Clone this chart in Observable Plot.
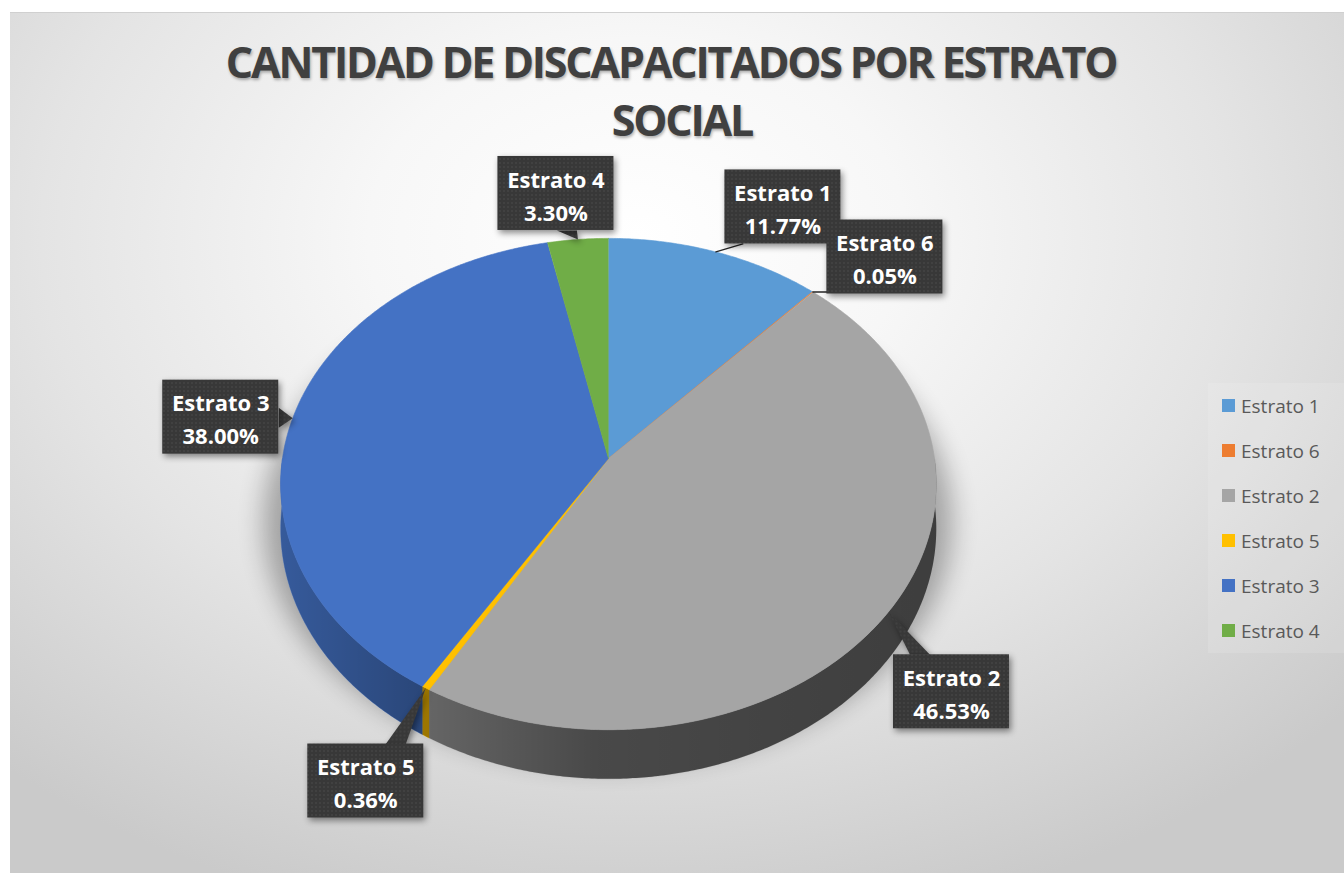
<!DOCTYPE html>
<html>
<head>
<meta charset="utf-8">
<script src="https://cdn.jsdelivr.net/npm/d3@7"></script>
<script src="https://cdn.jsdelivr.net/npm/@observablehq/plot@0.6"></script>
<style>
html, body { margin: 0; padding: 0; background: #ffffff; width: 1344px; height: 873px; overflow: hidden; }
#chart {
  position: absolute; left: 10px; top: 12px; width: 1334px; height: 861px; overflow: hidden;
  background: radial-gradient(ellipse 72% 82% at 47% 26%, #ffffff 0%, #f7f7f7 28%, #e4e4e4 62%, #cacaca 100%);
  border-top: 1px solid #d0d0d0; box-sizing: border-box;
}
#title {
  position: absolute; left: -6px; top: 20px; width: 1334px; text-align: center;
  font-family: "Open Sans", sans-serif; font-weight: 700; font-size: 43px; line-height: 58px;
  color: #404040; letter-spacing: -2.2px; text-shadow: 1px 2px 3px rgba(0,0,0,0.3);
}
#title span { position: relative; left: 11px; }
#plot { position: absolute; left: 0; top: 0; }
#legend {
  position: absolute; left: 1198px; top: 370px; width: 136px; height: 270px;
  background: rgba(255,255,255,0.12); padding-left: 14px; box-sizing: border-box;
}
#legend .lg-swatch { height: 45px; display: flex; align-items: center; padding: 0; }
#legend .lg-swatch svg { margin-right: 6px; }
</style>
</head>
<body>
<div id="chart">
  <div id="title">CANTIDAD DE DISCAPACITADOS POR ESTRATO<br><span>SOCIAL</span></div>
  <div id="plot"></div>
  <div id="legend"></div>
</div>
<script>
// ---- data ----
const categories = ["Estrato 1", "Estrato 6", "Estrato 2", "Estrato 5", "Estrato 3", "Estrato 4"];
const percents = [11.77, 0.05, 46.53, 0.36, 38.00, 3.30];
const colors = ["#5B9BD5", "#ED7D31", "#A5A5A5", "#FFC000", "#4472C4", "#70AD47"];

// ---- layout (pixels / styling, not data) ----
const W = 1334, H = 861;
const CX = 598, CY = 445, RX = 326, RY = 243, PERSP = 0.104, DEPTH = 44;
const BOX_W = 116, BOX_H = 74;
const labelLayout = [
  {dx: 67, dy: -45, pointer: "line"},
  {dx: 72, dy: -35, pointer: "line"},
  {dx: 63, dy: 80, pointer: "callout"},
  {dx: -60, dy: 93, pointer: "callout"},
  {dx: -72, dy: -1, pointer: "callout"},
  {dx: -22, dy: -46, pointer: "callout"}
];

const total = d3.sum(percents);
let acc = 0;
const slices = categories.map((cat, i) => {
  const a0 = acc / total * 360; acc += percents[i]; const a1 = acc / total * 360;
  return {cat, i, value: percents[i], a0, a1, color: colors[i]};
});

// perspective projection of the tilted disc (unit radius) into scale units
function proj(deg, down = 0) {
  const t = deg * Math.PI / 180;
  const u = Math.sin(t), v = -Math.cos(t);
  const s = 1 / (1 - PERSP * v);
  return [u * s, (v + down) * s];
}
const toPx = ([x, y]) => [CX + RX * x, CY + RY * y];
const toData = ([px, py]) => [(px - CX) / RX, (py - CY) / RY];
const D = DEPTH / RY;

function arc(a0, a1, down) {
  const n = Math.max(2, Math.ceil((a1 - a0) / 0.5));
  return d3.range(n + 1).map(k => proj(a0 + (a1 - a0) * k / n, down));
}

// top faces
const topPts = slices.flatMap(d => [[0, 0], ...arc(d.a0, d.a1, 0)].map(([x, y]) => ({cat: d.cat, x, y, fill: d.color})));

// visible side walls (front half: 90deg..270deg)
const sidePts = slices.filter(d => d.a1 > 90 && d.a0 < 270).flatMap(d => {
  const b0 = Math.max(d.a0, 90), b1 = Math.min(d.a1, 270);
  const pts = [...arc(b0, b1, 0), ...arc(b0, b1, D).reverse()];
  return pts.map(([x, y]) => ({cat: d.cat, x, y, fill: d.color}));
});

// labels
const fmt = d3.format(".2f");
const boxes = slices.map((d, i) => {
  const lay = labelLayout[i];
  const [ax, ay] = toPx(proj((d.a0 + d.a1) / 2));
  const bx = ax + lay.dx, by = ay + lay.dy;
  const [x1, y1] = toData([bx - BOX_W / 2, by - BOX_H / 2]);
  const [x2, y2] = toData([bx + BOX_W / 2, by + BOX_H / 2]);
  const [cx, cy] = toData([bx, by]);
  return {cat: d.cat, ax, ay, bx, by, x1, y1, x2, y2, cx, cy, pointer: lay.pointer,
          label: `${d.cat}\n${fmt(d.value)}%`};
});
const clamp = (v, lo, hi) => Math.max(lo, Math.min(hi, v));
const triPts = [], leadPts = [];
boxes.forEach(b => {
  const hw = BOX_W / 2, hh = BOX_H / 2;
  const ndx = (b.ax - b.bx) / hw, ndy = (b.ay - b.by) / hh;
  if (b.pointer === "callout") {
    let p1, p2;
    if (Math.abs(ndx) > Math.abs(ndy)) {
      const ex = b.bx + Math.sign(ndx) * hw;
      const cy = clamp(b.by + (b.ay - b.by) * 0.5, b.by - hh + 12, b.by + hh - 12);
      p1 = [ex, cy - 10]; p2 = [ex, cy + 10];
    } else {
      const ey = b.by + Math.sign(ndy) * hh;
      const cx = clamp(b.bx + (b.ax - b.bx) * 0.5, b.bx - hw + 12, b.bx + hw - 12);
      p1 = [cx - 10, ey]; p2 = [cx + 10, ey];
    }
    [p1, p2, [b.ax, b.ay]].forEach(p => { const [x, y] = toData(p); triPts.push({cat: b.cat, x, y}); });
  } else {
    const sx = clamp(b.ax, b.bx - hw + 18, b.bx + hw - 18);
    const sy = clamp(b.ay, b.by - hh + 14, b.by + hh);
    [[sx, sy], [b.ax, b.ay]].forEach(p => { const [x, y] = toData(p); leadPts.push({cat: b.cat, x, y}); });
  }
});

const font = "'Open Sans', sans-serif";
const plot = Plot.plot({
  width: W, height: H, margin: 0,
  style: {background: "transparent", overflow: "visible"},
  x: {domain: [-1, 1], range: [CX - RX, CX + RX], axis: null},
  y: {domain: [-1, 1], range: [CY - RY, CY + RY], axis: null},
  color: {type: "identity"},
  marks: [
    Plot.line(topPts, {x: "x", y: "y", z: "cat", fill: "#000", stroke: "none"}),
    Plot.line(sidePts, {x: "x", y: "y", z: "cat", fill: "fill", stroke: "fill", strokeWidth: 0.5}),
    Plot.line(sidePts, {x: "x", y: "y", z: "cat", fill: "url(#sideShade)", stroke: "none"}),
    Plot.line(topPts, {x: "x", y: "y", z: "cat", fill: "fill", stroke: "fill", strokeWidth: 0.6}),
    Plot.line(leadPts, {x: "x", y: "y", z: "cat", stroke: "#262626", strokeWidth: 1.3}),
    Plot.line(triPts, {x: "x", y: "y", z: "cat", fill: "url(#dots)", stroke: "none"}),
    Plot.rect(boxes, {x1: "x1", x2: "x2", y1: "y1", y2: "y2", fill: "url(#dots)"}),
    Plot.text(boxes, {x: "cx", y: "cy", text: "label", fill: "#ffffff", fontSize: 22, fontWeight: "bold",
                      fontFamily: font, lineHeight: 1.5})
  ]
});
document.getElementById("plot").appendChild(plot);

// defs: gradient shading of side wall, dotted texture of label boxes
const svg = d3.select(plot);
const defs = svg.insert("defs", ":first-child");
const g = defs.append("linearGradient").attr("id", "sideShade").attr("gradientUnits", "userSpaceOnUse")
  .attr("x1", CX - RX - 10).attr("x2", CX + RX + 10).attr("y1", 0).attr("y2", 0);
[[0, 0.2], [0.22, 0.38], [0.48, 0.56], [1, 0.63]].forEach(([o, a]) =>
  g.append("stop").attr("offset", o).attr("stop-color", "#000").attr("stop-opacity", a));
const pat = defs.append("pattern").attr("id", "dots").attr("width", 4).attr("height", 4).attr("patternUnits", "userSpaceOnUse");
pat.append("rect").attr("width", 4).attr("height", 4).attr("fill", "#383838");
pat.append("circle").attr("cx", 2).attr("cy", 2).attr("r", 0.8).attr("fill", "#4c4c4c");

const lineGroups = svg.selectAll('g[aria-label="line"]').nodes();
d3.select(lineGroups[0]).style("opacity", 0.3).style("filter", "blur(12px)")
  .attr("transform", `translate(${CX},${CY + 38}) scale(1.05,1) translate(${-CX},${-CY})`);
d3.select(lineGroups[5]).style("filter", "drop-shadow(2px 3px 3px rgba(0,0,0,0.45))");
svg.selectAll('g[aria-label="rect"]').style("filter", "drop-shadow(2px 3px 3px rgba(0,0,0,0.45))");

// legend
const legend = Plot.legend({
  color: {domain: categories, range: colors},
  legend: "swatches", columns: 1, swatchSize: 13, className: "lg",
  style: {fontFamily: font, fontSize: "19px", color: "#595959", background: "transparent"}
});
document.getElementById("legend").appendChild(legend);
</script>
</body>
</html>
